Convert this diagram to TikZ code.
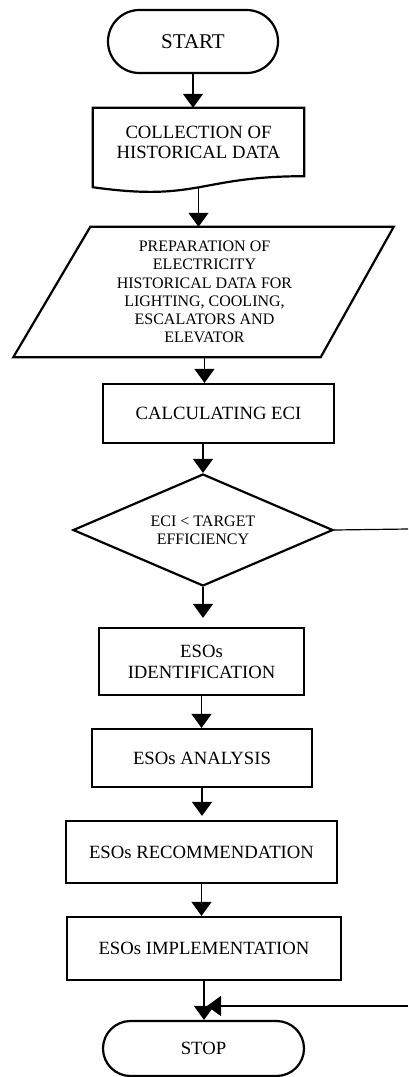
\documentclass[tikz,border=0pt]{standalone}
\usepackage{fontspec}
\setmainfont{Liberation Serif}
\usetikzlibrary{shapes.misc,shapes.geometric,arrows.meta,calc}

\begin{document}
\begin{tikzpicture}[x=1pt,y=-1pt,
	shapeline/.style={line width=2.2pt},
	termbox/.style={shapeline,draw,rounded rectangle,inner sep=0pt},
	procbox/.style={shapeline,draw,rectangle,inner sep=0pt,align=center,font=\fontsize{18.7}{21}\selectfont},
	textbox/.style={inner sep=0pt,align=center},
	arr/.style={line width=1.2pt,-{Triangle[length=14pt,width=20pt]}},
	link/.style={line width=1.2pt}]

	\useasboundingbox (0,0) rectangle (408,1077);

	\node[termbox,minimum width=170pt,minimum height=63pt,font=\fontsize{21}{24}\selectfont] (start) at (193,41.5) {START};

	\node[textbox,minimum width=211pt,minimum height=68pt,font=\fontsize{18.7}{20}\selectfont] (collect) at (198.5,142) {COLLECTION OF\\HISTORICAL DATA};
	\draw[shapeline] (collect.north west) -- (collect.north east) -- (collect.south east) .. controls (collect.south) and ($(collect.south)+(0,26)$) .. ($(collect.south west)+(0,11)$) coordinate[pos=0.5] (collectb) -- cycle;

	\node[textbox,minimum width=230pt,minimum height=130pt,font=\fontsize{16}{18.3}\selectfont] (prep) at (204.5,292) {PREPARATION OF\\ELECTRICITY\\HISTORICAL DATA FOR\\LIGHTING, COOLING,\\ESCALATORS AND\\ELEVATOR};
	\draw[shapeline] ($(prep.north west)+(1,0)$) -- ($(prep.north east)+(74,0)$) -- ($(prep.south east)+(1,0)$) -- ($(prep.south west)+(-76,0)$) -- cycle;

	\node[procbox,minimum width=231pt,minimum height=59pt] (calc) at (218.5,413.5) {CALCULATING ECI};

	\node[shapeline,draw,diamond,aspect=2.3,inner sep=0pt,minimum width=260pt,minimum height=112pt,align=center,font=\fontsize{16}{18}\selectfont] (diam) at (203,530) {ECI < TARGET\\EFFICIENCY};

	\node[procbox,minimum width=205pt,minimum height=67pt] (ident) at (201.5,661.5) {ESOs\\IDENTIFICATION};

	\node[procbox,minimum width=220pt,minimum height=58pt] (anal) at (202,758) {ESOs ANALYSIS};

	\node[procbox,minimum width=271pt,minimum height=62pt] (rec) at (201.5,852) {ESOs RECOMMENDATION};

	\node[procbox,minimum width=274pt,minimum height=63pt] (impl) at (204,948.5) {ESOs IMPLEMENTATION};

	\node[termbox,minimum width=201pt,minimum height=55pt,font=\fontsize{18.7}{21}\selectfont] (stop) at (203.5,1048.5) {STOP};

	\coordinate (noout) at (408,529);
	\coordinate (noin) at (408,1006);
	\coordinate (join) at (impl.south |- noin);

	\draw[arr] (start.south) -- (start.south |- collect.north);
	\draw[arr] (collectb) -- (collectb |- prep.north);
	\draw[arr] (prep.south) -- (prep.south |- calc.north);
	\draw[arr] (diam.north |- calc.south) -- (diam.north);
	\draw[arr,shorten >=9pt] (diam.south) -- (diam.south |- ident.north);
	\draw[arr] (ident.south) -- (ident.south |- anal.north);
	\draw[arr,shorten >=4pt] (anal.south) -- (anal.south |- rec.north);
	\draw[arr] (rec.south) -- (rec.south |- impl.north);
	\draw[arr] (impl.south) -- (impl.south |- stop.north);
	\draw[link] (diam.east) -- (noout);
	\draw[arr,shorten >=3pt] (noin) -- (join);
\end{tikzpicture}
\end{document}
